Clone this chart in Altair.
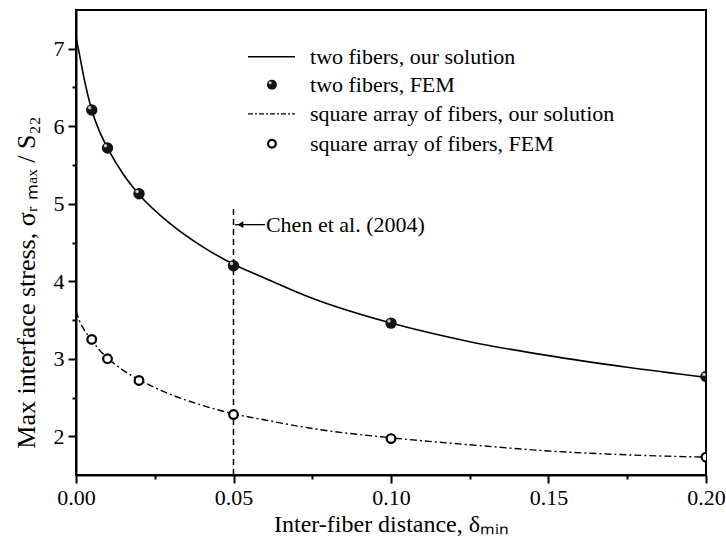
import altair as alt
import pandas as pd

FONT = "Liberation Serif"

# ---- data ----
x_curve = [0, 0.001, 0.0025, 0.005, 0.0075, 0.01, 0.015, 0.02, 0.03, 0.04,
           0.05, 0.06, 0.075, 0.1, 0.125, 0.15, 0.175, 0.2]
two_curve = [7.15, 6.95, 6.63, 6.21, 5.93, 5.72, 5.38, 5.12, 4.74, 4.45,
             4.22, 4.04, 3.78, 3.46, 3.22, 3.04, 2.89, 2.76]
sq_curve = [3.62, 3.50, 3.38, 3.24, 3.11, 3.01, 2.85, 2.73, 2.54, 2.40,
            2.29, 2.21, 2.10, 1.98, 1.89, 1.81, 1.76, 1.73]

fem_x = [0.005, 0.01, 0.02, 0.05, 0.1, 0.2]
two_fem = [6.21, 5.72, 5.13, 4.20, 3.46, 2.77]
sq_fem = [3.25, 3.00, 2.72, 2.28, 1.97, 1.73]

legend_labels = ["two fibers, our solution", "two fibers, FEM",
                 "square array of fibers, our solution", "square array of fibers, FEM"]
annotation_text = "Chen et al. (2004)"
chen_x = 0.05
chen_top = 4.95
chen_y = 4.73

x_ticks = [0, 0.025, 0.05, 0.075, 0.1, 0.125, 0.15, 0.175, 0.2]
y_ticks = [2, 2.5, 3, 3.5, 4, 4.5, 5, 5.5, 6, 6.5, 7]

# legend layout (data coordinates)
leg_rows = [6.897, 6.535, 6.160, 5.773]
leg_line_x = [0.0546, 0.0695]
leg_sym_x = 0.0622
leg_text_x = 0.0743

curve_df = pd.DataFrame({"x": x_curve, "two": two_curve, "sq": sq_curve})
fem_df = pd.DataFrame({"x": fem_x, "two": two_fem, "sq": sq_fem})

xscale = alt.Scale(domain=[0, 0.2], nice=False, zero=False)
yscale = alt.Scale(domain=[1.5, 7.5], nice=False, zero=False)

xaxis = alt.Axis(
    values=x_ticks,
    labelExpr="round(datum.value*1000) % 50 == 0 ? format(datum.value, '.2f') : ''",
    tickSize={"condition": {"test": "round(datum.value*1000) % 50 != 0", "value": 4}, "value": 8},
    labelFlush=False, labelPadding=4, titlePadding=4, titleFontSize=24,
)
yaxis = alt.Axis(
    values=y_ticks,
    labelExpr="datum.value % 1 == 0 ? format(datum.value, 'd') : ''",
    tickSize={"condition": {"test": "datum.value % 1 != 0", "value": 4}, "value": 8},
    labelPadding=4, titlePadding=14, titleFontSize=26, titleY=272,
)

X = alt.X("x:Q", scale=xscale, axis=xaxis, title="Inter-fiber distance, δₘᵢₙ")
Y = alt.Y("two:Q", scale=yscale, axis=yaxis, title="Max interface stress, σᵣ ₘₐₓ / S₂₂")

line_two = alt.Chart(curve_df).mark_line(
    color="black", strokeWidth=1.6, interpolate="monotone", clip=True
).encode(x=X, y=Y)

line_sq = alt.Chart(curve_df).mark_line(
    color="black", strokeWidth=1.4, strokeDash=[7, 3, 2, 3], interpolate="monotone", clip=True
).encode(x=alt.X("x:Q", scale=xscale), y=alt.Y("sq:Q", scale=yscale))

chen_df = pd.DataFrame({"x": [chen_x], "y1": [1.5], "y2": [chen_top]})
vline = alt.Chart(chen_df).mark_rule(
    color="black", strokeWidth=1.5, strokeDash=[6, 4]
).encode(x=alt.X("x:Q", scale=xscale), y=alt.Y("y1:Q", scale=yscale), y2="y2:Q")

pts_two = alt.Chart(fem_df).mark_circle(
    size=130, color="#141414", opacity=1, clip=True
).encode(x=alt.X("x:Q", scale=xscale), y=alt.Y("two:Q", scale=yscale))
pts_two_hl = alt.Chart(fem_df).mark_circle(
    size=12, color="#c8c8c8", opacity=1, xOffset=-2, yOffset=-2.2, clip=True
).encode(x=alt.X("x:Q", scale=xscale), y=alt.Y("two:Q", scale=yscale))

pts_sq = alt.Chart(fem_df).mark_point(
    shape="circle", size=75, filled=True, fill="white", stroke="black",
    strokeWidth=2.2, opacity=1, clip=True
).encode(x=alt.X("x:Q", scale=xscale), y=alt.Y("sq:Q", scale=yscale))

# annotation arrow + text
arr_df = pd.DataFrame({"x1": [0.0505], "x2": [0.0600], "xh": [0.0522], "y": [chen_y],
                       "xt": [0.0603], "t": [annotation_text]})
arr_line = alt.Chart(arr_df).mark_rule(color="black", strokeWidth=1.3).encode(
    x=alt.X("x1:Q", scale=xscale), x2="x2:Q", y=alt.Y("y:Q", scale=yscale))
arr_head = alt.Chart(arr_df).mark_point(
    shape="triangle-left", filled=True, size=45, color="black", opacity=1
).encode(x=alt.X("xh:Q", scale=xscale), y=alt.Y("y:Q", scale=yscale))
arr_text = alt.Chart(arr_df).mark_text(
    align="left", baseline="middle", font=FONT, fontSize=22, color="black"
).encode(x=alt.X("xt:Q", scale=xscale), y=alt.Y("y:Q", scale=yscale), text="t:N")

# legend
leg_df = pd.DataFrame({
    "label": legend_labels, "y": leg_rows,
    "x1": [leg_line_x[0]] * 4, "x2": [leg_line_x[1]] * 4,
    "xs": [leg_sym_x] * 4, "xt": [leg_text_x] * 4,
})
leg_l1 = alt.Chart(leg_df.iloc[[0]]).mark_rule(color="black", strokeWidth=1.6).encode(
    x=alt.X("x1:Q", scale=xscale), x2="x2:Q", y=alt.Y("y:Q", scale=yscale))
leg_l2 = alt.Chart(leg_df.iloc[[2]]).mark_rule(
    color="black", strokeWidth=1.4, strokeDash=[5, 2, 2, 2]).encode(
    x=alt.X("x1:Q", scale=xscale), x2="x2:Q", y=alt.Y("y:Q", scale=yscale))
leg_p1 = alt.Chart(leg_df.iloc[[1]]).mark_circle(size=100, color="#141414", opacity=1).encode(
    x=alt.X("xs:Q", scale=xscale), y=alt.Y("y:Q", scale=yscale))
leg_p1h = alt.Chart(leg_df.iloc[[1]]).mark_circle(
    size=9, color="#c8c8c8", opacity=1, xOffset=-1.8, yOffset=-2).encode(
    x=alt.X("xs:Q", scale=xscale), y=alt.Y("y:Q", scale=yscale))
leg_p2 = alt.Chart(leg_df.iloc[[3]]).mark_point(
    shape="circle", size=60, filled=True, fill="white", stroke="black", strokeWidth=2.2, opacity=1
).encode(x=alt.X("xs:Q", scale=xscale), y=alt.Y("y:Q", scale=yscale))
leg_txt = alt.Chart(leg_df).mark_text(
    align="left", baseline="middle", font=FONT, fontSize=22, color="black"
).encode(x=alt.X("xt:Q", scale=xscale), y=alt.Y("y:Q", scale=yscale), text="label:N")

chart = alt.layer(
    line_two, line_sq, vline, pts_two, pts_two_hl, pts_sq,
    arr_line, arr_head, arr_text,
    leg_l1, leg_l2, leg_p1, leg_p1h, leg_p2, leg_txt,
).properties(
    width=630, height=465,
    autosize=alt.AutoSizeParams(type="none"),
    padding={"left": 76, "top": 10, "right": 20, "bottom": 72},
    background="white",
).configure_view(
    stroke="black", strokeWidth=2
).configure_axis(
    grid=False, domainColor="black", domainWidth=2, tickColor="black", tickWidth=2,
    labelColor="black", titleColor="black", labelFont=FONT, titleFont=FONT,
    labelFontSize=22, titleFontWeight="normal",
)

chart.save("out.html", embed_options={"renderer": "svg", "actions": False})
